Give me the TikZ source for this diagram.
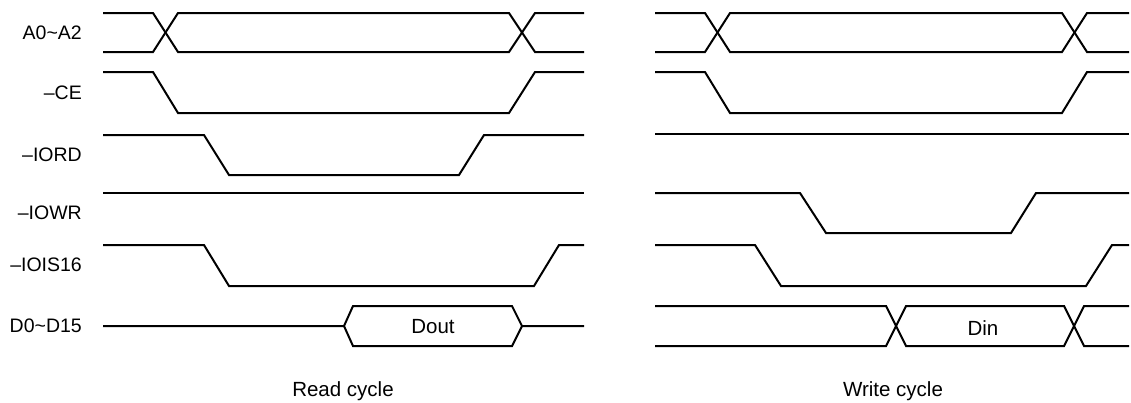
\documentclass[tikz,border=0pt]{standalone}
\usepackage{fontspec}
\setmainfont{Liberation Sans}
\usetikzlibrary{positioning}
\usetikzlibrary{calc}
\tikzset{
  sinal/.style={line width=2pt},
  rotulo/.style={anchor=east, inner sep=0pt, font=\fontsize{19.5}{22}\selectfont},
  texto/.style={inner sep=0pt, font=\fontsize{20.5}{24}\selectfont}
}

\begin{document}
\begin{tikzpicture}[x=1pt, y=-1pt]
        \useasboundingbox (0, 0) rectangle (1131, 402);

        % Nomes dos sinais
        \foreach \nome/\y/\txt in {a/33/A0\textasciitilde A2, ce/93/\textendash CE, iord/155/\textendash IORD,
                                   iowr/213/\textendash IOWR, iois/265/\textendash IOIS16, d/326/D0\textasciitilde D15}
        {
        \node[rotulo] (lbl-\nome) at (82, \y) {\txt};
        }

        % Ciclo de leitura
        \draw[sinal] (103, 13) -- (153, 13) -- (178, 52) -- (509, 52) -- (535, 13) -- (584, 13);
        \draw[sinal] (103, 52) -- (153, 52) -- (178, 13) -- (509, 13) -- (535, 52) -- (584, 52);
        \draw[sinal] (103, 72) -- (153, 72) -- (178, 113) -- (509, 113) -- (535, 72) -- (584, 72);
        \draw[sinal] (103, 135) -- (204, 135) -- (229, 175) -- (459, 175) -- (484, 135) -- (584, 135);
        \draw[sinal] (103, 193) -- (584, 193);
        \draw[sinal] (103, 245) -- (204, 245) -- (229, 286) -- (534, 286) -- (559, 245) -- (584, 245);
        \draw[sinal] (103, 326) -- (344, 326) -- (353, 306) -- (512, 306) -- (522, 326) -- (584, 326);
        \draw[sinal] (344, 326) -- (353, 346) -- (512, 346) -- (522, 326);
        \node[texto] (dout) at (433, 327) {Dout};
        \node[texto] (leitura) at (343, 391) {Read cycle};

        % Ciclo de escrita
        \draw[sinal] (655, 13) -- (705, 13) -- (730, 52) -- (1062, 52) -- (1087, 13) -- (1129, 13);
        \draw[sinal] (655, 52) -- (705, 52) -- (730, 13) -- (1062, 13) -- (1087, 52) -- (1129, 52);
        \draw[sinal] (655, 72) -- (705, 72) -- (730, 113) -- (1062, 113) -- (1087, 72) -- (1129, 72);
        \draw[sinal] (655, 134) -- (1129, 134);
        \draw[sinal] (655, 193) -- (800, 193) -- (826, 233) -- (1011, 233) -- (1036, 193) -- (1129, 193);
        \draw[sinal] (655, 245) -- (755, 245) -- (781, 286) -- (1086, 286) -- (1112, 245) -- (1129, 245);
        \draw[sinal] (655, 306) -- (886, 306) -- (906, 346) -- (1064, 346) -- (1084, 306) -- (1129, 306);
        \draw[sinal] (655, 346) -- (886, 346) -- (906, 306) -- (1064, 306) -- (1084, 346) -- (1129, 346);
        \node[texto] (din) at (983, 328) {Din};
        \node[texto] (escrita) at (893, 391) {Write cycle};
    \end{tikzpicture}
\end{document}
